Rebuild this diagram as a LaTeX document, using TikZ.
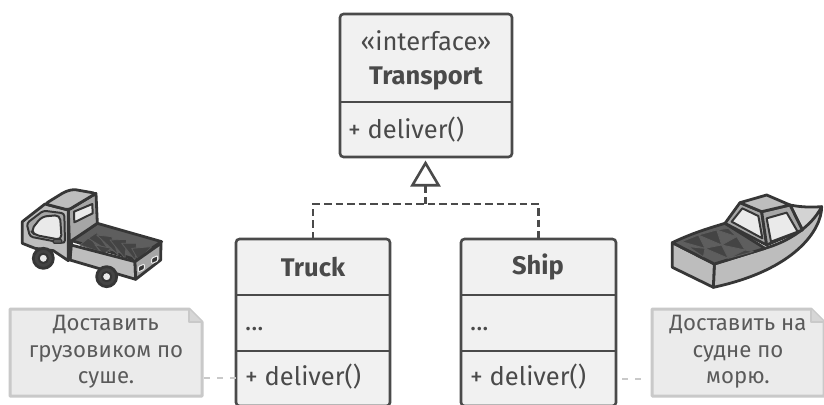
\documentclass[tikz,border=0pt]{standalone}
\usepackage{fontspec}
\setmainfont{Fira Sans}
\usetikzlibrary{arrows.meta}
\definecolor{ink}{HTML}{4A4A4A}
\definecolor{boxfill}{HTML}{F1F1F1}
\definecolor{notefill}{HTML}{EBEBEB}
\definecolor{noteline}{HTML}{C9C9C9}
\definecolor{notefold}{HTML}{D6D6D6}
\definecolor{txt}{HTML}{4A4A4A}
\definecolor{notetxt}{HTML}{5A5A5A}
\definecolor{gA}{HTML}{BDBDBD}
\definecolor{gB}{HTML}{A6A6A6}
\definecolor{gC}{HTML}{EAEAEA}
\definecolor{gD}{HTML}{363636}
\definecolor{gE}{HTML}{5E5E5E}
\definecolor{gF}{HTML}{444444}
\tikzset{
  classbox/.style={draw=ink,line width=2.6pt,fill=boxfill,rounded corners=3.5pt,inner sep=0pt,outer sep=0pt,anchor=north west},
  divider/.style={draw=ink,line width=2.6pt},
  label/.style={text=txt,font=\fontsize{25.5}{30}\selectfont,inner sep=0pt},
  title/.style={text=txt,font=\fontsize{25.5}{30}\selectfont\bfseries,inner sep=0pt},
  member/.style={label,anchor=west},
  realize/.style={draw=ink,line width=2.4pt,dash pattern=on 7.5pt off 4pt},
  notedash/.style={draw=noteline,line width=2.2pt,dash pattern=on 6pt off 7pt},
  notebox/.style={draw=noteline,line width=3pt,fill=notefill,line join=round},
  notetext/.style={text=notetxt,font=\fontsize{22.2}{26.5}\selectfont,align=center,inner sep=0pt},
  art/.style={draw=gD,line width=2.8pt,line join=round},
  thin art/.style={draw=gD,line width=2pt,line join=round},
  facet/.style={draw=gE,line width=0.8pt,fill=gF,line join=round},
}
\begin{document}
\begin{tikzpicture}[x=1pt,y=-1pt]
\useasboundingbox (0,0) rectangle (824,404);
\fill[white] (0,0) rectangle (824,404);

% class boxes
\node[classbox,minimum width=172pt,minimum height=143pt] (transport) at (340,14) {};
\node[classbox,minimum width=154pt,minimum height=167pt] (truck) at (236,239) {};
\node[classbox,minimum width=155pt,minimum height=167pt] (ship) at (461,239) {};
\draw[divider] (340,102) -- (512,102);
\draw[divider] (236,295) -- (390,295);
\draw[divider] (236,351) -- (390,351);
\draw[divider] (461,295) -- (616,295);
\draw[divider] (461,351) -- (616,351);

\node[label] (t1) at (426,41) {«interface»};
\node[title] (t2) at (426,78) {Transport};
\node[member] (t3) at (348,130) {+ deliver()};
\node[title] (t4) at (313,267) {Truck};
\node[member] (t5) at (245,329) {...};
\node[member] (t6) at (245,377) {+ deliver()};
\node[title] (t7) at (538,267) {Ship};
\node[member] (t8) at (470,329) {...};
\node[member] (t9) at (470,377) {+ deliver()};

% realization connector
\coordinate (junction) at (425.5,204);
\draw[realize] (truck.north) |- (junction) -| (ship.north);
\draw[realize,shorten >=3.5pt,-{Triangle[open,length=26pt,width=30pt,line width=2.6pt]}] (junction) -- (junction |- transport.south);

% notes
\draw[notebox] (10,309) -- (189,309) -- (202,322) -- (202,396) -- (10,396) -- cycle;
\fill[notefold] (189,309) -- (189,322) -- (202,322) -- cycle;
\draw[noteline,line width=2pt,line join=round] (189,309) -- (189,322) -- (202,322);
\node[notetext] (noteL) at (106,352) {Доставить\\грузовиком по\\суше.};
\coordinate (noteLe) at (204,378);
\draw[notedash] (noteLe) -- (truck.west |- noteLe);

\draw[notebox] (652,309) -- (811,309) -- (824,322) -- (824,396) -- (652,396) -- cycle;
\fill[notefold] (811,309) -- (811,322) -- (824,322) -- cycle;
\draw[noteline,line width=2pt,line join=round] (811,309) -- (811,322) -- (824,322);
\node[notetext] (noteR) at (738,352) {Доставить на\\судне по\\морю.};
\coordinate (noteRe) at (644,379);
\draw[notedash] (ship.east |- noteRe) ++(6,0) -- (noteRe);

% truck
\begin{scope}[shift={(15,180)},x=0.3333pt,y=-0.3333pt]
  \draw[art,fill=gE] (170,182) -- (247,130) -- (440,185) -- (360,238) -- cycle;
  \foreach \a/\b/\c/\d/\e/\f in {195/195/225/170/255/215, 220/175/245/158/285/215, 245/165/290/170/310/225, 285/180/335/178/330/235, 320/190/365/190/360/240, 350/205/410/200/370/240, 240/195/290/205/265/222}
    \draw[facet] (\a,\b) -- (\c,\d) -- (\e,\f) -- cycle;
  \draw[art,fill=gA] (168,195) -- (360,245) -- (362,298) -- (165,240) -- cycle;
  \draw[art,fill=gB] (360,245) -- (438,190) -- (437,240) -- (362,298) -- cycle;
  \draw[gC,line width=1pt,fill=gD,rounded corners=1pt] (370,260) -- (388,252) -- (388,268) -- (370,276) -- cycle;
  \draw[gC,line width=1pt,fill=gD,rounded corners=1pt] (410,235) -- (428,227) -- (428,243) -- (410,251) -- cycle;
  % cab
  \draw[art,fill=gB] (160,90) -- (243,40) -- (247,130) -- (170,182) -- (165,240) -- cycle;
  \draw[art,fill=gA] (22,125) -- (90,72) -- (160,90) -- (160,242) -- (115,212) -- (60,205) -- (22,190) -- cycle;
  \draw[art,fill=gA,rounded corners=3pt] (90,72) -- (150,35) -- (175,28) -- (243,40) -- (160,90) -- cycle;
  \draw[thin art,fill=gB,rounded corners=3pt] (35,130) -- (85,92) -- (148,100) -- (150,190) -- (45,170) -- cycle;
  \draw[thin art,fill=gC,rounded corners=5pt] (47,152) -- (80,110) -- (135,105) -- (140,180) -- (60,165) -- cycle;
  \draw[thin art,fill=gC] (177,95) -- (232,72) -- (233,100) -- (178,127) -- cycle;
  \draw[draw=gD,line width=1.2pt,fill=gE,rounded corners=1pt] (115,178) rectangle (140,190);
  % wheels
  \foreach \x/\y in {85/235,275/290}{
    \draw[art,fill=gF] (\x,\y) circle (30);
    \draw[thin art,fill=gC] (\x,\y) circle (14);
  }
\end{scope}

% ship
\begin{scope}[shift={(665,190)},x=0.3333pt,y=-0.3333pt]
  \draw[art,fill=gC!50!gA] (375,45) .. controls (410,52) and (440,52) .. (470,50) .. controls (460,85) and (440,105) .. (415,125) -- cycle;
  \draw[art,fill=gA] (148,222) -- (300,175) .. controls (370,155) and (440,110) .. (470,50) .. controls (470,120) and (390,240) .. (145,292) -- cycle;
  \draw[art,fill=gA] (22,158) -- (148,222) -- (145,292) -- (22,232) -- cycle;
  \draw[art,fill=gE] (22,158) .. controls (80,130) and (130,115) .. (180,100) -- (300,175) -- (148,222) -- cycle;
  \foreach \a/\b/\c/\d/\e/\f in {50/155/100/135/120/175, 100/135/155/120/170/165, 120/175/170/165/190/205, 170/165/215/140/240/180, 155/120/190/115/215/140, 70/170/120/175/115/200, 190/205/240/180/265/185}
    \draw[facet] (\a,\b) -- (\c,\d) -- (\e,\f) -- cycle;
  % cabin
  \draw[art,fill=gB] (180,100) -- (225,38) -- (290,65) -- (305,165) -- cycle;
  \draw[art,fill=gB] (290,65) -- (375,45) -- (412,120) -- (305,165) -- cycle;
  \draw[art,fill=gA] (225,38) -- (305,15) -- (375,45) -- (290,65) -- cycle;
  \draw[thin art,fill=gC] (200,95) -- (232,55) -- (280,78) -- (292,145) -- cycle;
  \draw[thin art,fill=gC] (305,85) -- (365,68) -- (398,125) -- (318,155) -- cycle;
\end{scope}
\end{tikzpicture}
\end{document}
